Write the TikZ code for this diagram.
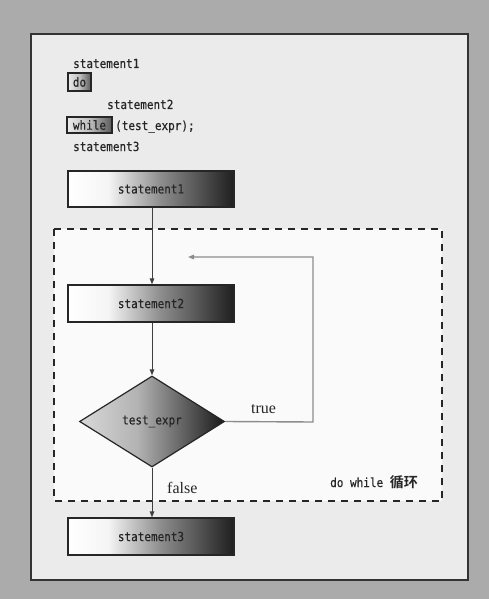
\documentclass[tikz,border=0pt]{standalone}
\usepackage{fontspec}
\setmainfont{Liberation Serif}
\newfontfamily\codefont[FakeStretch=0.88,FakeBold=0.4]{DejaVu Sans Mono}
\newfontfamily\cjkfont{Noto Sans CJK SC Bold}
\usetikzlibrary{arrows.meta,shapes.geometric}
\pgfdeclarehorizontalshading{boxshade}{100bp}{color(0bp)=(white); color(25bp)=(white); color(37bp)=(white!96!black); color(53bp)=(black!45); color(75bp)=(black!88); color(100bp)=(black!88)}
\pgfdeclarehorizontalshading{dshade}{100bp}{color(0bp)=(black!15); color(25bp)=(black!15); color(45bp)=(black!30); color(75bp)=(black!90); color(100bp)=(black!90)}
\pgfdeclarehorizontalshading{kwshade}{100bp}{color(0bp)=(black!8); color(25bp)=(black!8); color(50bp)=(black!25); color(75bp)=(black!65); color(100bp)=(black!65)}
\tikzset{
  codefs/.style={font=\codefont\fontsize{12.5}{14}\selectfont},
  code/.style={codefs, text=black!85, inner sep=0pt},
  stmtbox/.style={draw=black!85, line width=1.2pt, shading=boxshade, inner sep=0pt,
    codefs, text=black!85},
  decision/.style={diamond, draw=black!85, line width=1.2pt, shading=dshade, inner sep=0pt,
    codefs, text=black!85},
  kwbox/.style={draw=black!85, line width=1.2pt, shading=kwshade, inner sep=0pt,
    codefs, text=black!85},
  flow/.style={draw=black!75, line width=1pt, -{Triangle[length=6pt,width=4.5pt]}},
  loopline/.style={draw=black!45, line width=1.4pt, -{Triangle[length=6pt,width=4.5pt,fill=black!75]}},
  lbl/.style={font=\fontsize{16}{18}\selectfont, text=black!85, inner sep=0pt},
  region/.style={draw=black!85, line width=1.6pt, dash pattern=on 7pt off 6pt, fill=black!2},
}
\begin{document}
\begin{tikzpicture}[x=1pt,y=-1pt]
\useasboundingbox (0,0) rectangle (489,599);
\fill[black!33] (0,0) rectangle (489,599);
\draw[draw=black!80, line width=1.5pt, fill=black!8] (31,34) rectangle (468,580);
% code listing
\node[code, anchor=base west] (l1) at (73,68) {statement1};
\node[kwbox, minimum width=23pt, minimum height=18pt] (kdo) at (79.5,82) {do};
\node[code, anchor=base west] (l3) at (107,109) {statement2};
\node[kwbox, minimum width=45pt, minimum height=16pt] (kwhile) at (89.5,125) {while};
\node[code, anchor=base west] (l4) at (115,130) {(test\_expr);};
\node[code, anchor=base west] (l5) at (73,151) {statement3};
% loop region
\draw[region] (54,229) rectangle (442,501);
% flowchart
\node[stmtbox, minimum width=166pt, minimum height=36pt] (s1) at (151,189) {statement1};
\node[stmtbox, minimum width=166pt, minimum height=37pt] (s2) at (151,303.5) {statement2};
\node[decision, minimum width=145pt, minimum height=91pt, aspect=1.6] (d) at (152,421.5) {test\_expr};
\node[stmtbox, minimum width=166pt, minimum height=37pt] (s3) at (151,536.5) {statement3};
\coordinate (c1) at (313,422);
\coordinate (c2) at (313,257);
\coordinate (c3) at (188,257);
\draw[flow] (s1.south -| d.north) -- (s2.north -| d.north);
\draw[flow] (s2.south -| d.north) -- (d.north);
\draw[loopline] (d.east) -- (c1) -- (c2) -- (c3);
\draw[flow] (d.south) -- (s3.north -| d.south);
\node[lbl, anchor=base] (ltrue) at (263.5,413) {true};
\node[lbl, anchor=base west] (lfalse) at (167,493) {false};
\node[code, anchor=base west] (lloop) at (330,487) {do while {\cjkfont\fontsize{14}{15}\selectfont 循环}};
\end{tikzpicture}
\end{document}
